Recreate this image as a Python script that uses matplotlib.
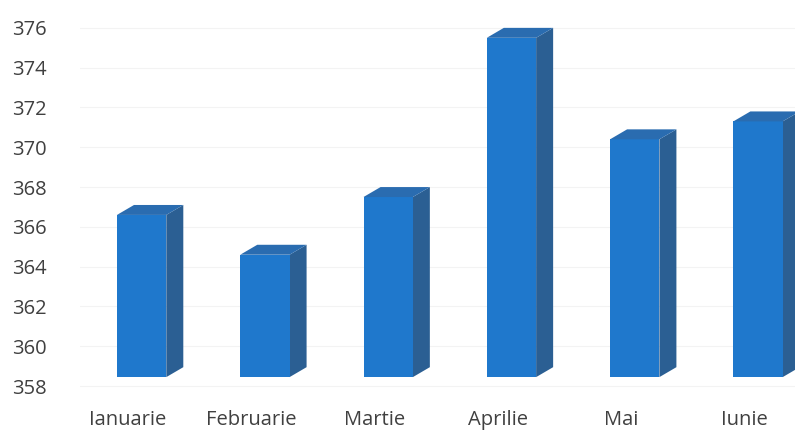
import matplotlib.pyplot as plt
from matplotlib.patches import Polygon
import numpy as np

luni = ['Ianuarie', 'Februarie', 'Martie', 'Aprilie', 'Mai', 'Iunie']
valori = [366.6, 364.6, 367.5, 375.5, 370.4, 371.3]
yticks = [358, 360, 362, 364, 366, 368, 370, 372, 374, 376]

baza = 358.45
fata = '#1f78cc'
lateral = '#2b5f93'
sus = '#2a6cb0'

plt.rcParams['font.family'] = ['Open Sans', 'DejaVu Sans']

fig = plt.figure(figsize=(7.95, 4.30), dpi=100)
ax = fig.add_axes([80/795, 30/430, 715/795, 400/430])

x = np.arange(len(luni))
off = 0.11     # front face shifted right of the label
w = 0.40       # front face width
dx = 0.138     # depth offset, x
dy = 0.50      # depth offset, y

# faint gridlines behind the bars
for t in yticks:
    ax.axhline(t, color='#f3f3f3', lw=0.8, zorder=0)

vals = np.array(valori)
ax.bar(x + off, vals - baza, bottom=baza, width=w, color=fata, zorder=3)

for xi, v in zip(x + off, vals):
    r = xi + w / 2
    l = xi - w / 2
    side = Polygon([(r, baza), (r + dx, baza + dy), (r + dx, v + dy), (r, v)],
                   closed=True, facecolor=lateral, edgecolor='none', zorder=2)
    top = Polygon([(l, v), (l + dx, v + dy), (r + dx, v + dy), (r, v)],
                  closed=True, facecolor=sus, edgecolor='none', zorder=4)
    ax.add_patch(side)
    ax.add_patch(top)

ax.set_xlim(-0.39, 5.41)
ax.set_ylim(357.3, 377.4)
ax.set_yticks(yticks)
ax.set_xticks(x)
ax.set_xticklabels(luni)
ax.tick_params(axis='both', length=0, labelsize=14.5, colors='#404040')
ax.tick_params(axis='y', pad=24)
ax.tick_params(axis='x', pad=7)
for s in ax.spines.values():
    s.set_visible(False)

plt.savefig('out.png', dpi=100)
